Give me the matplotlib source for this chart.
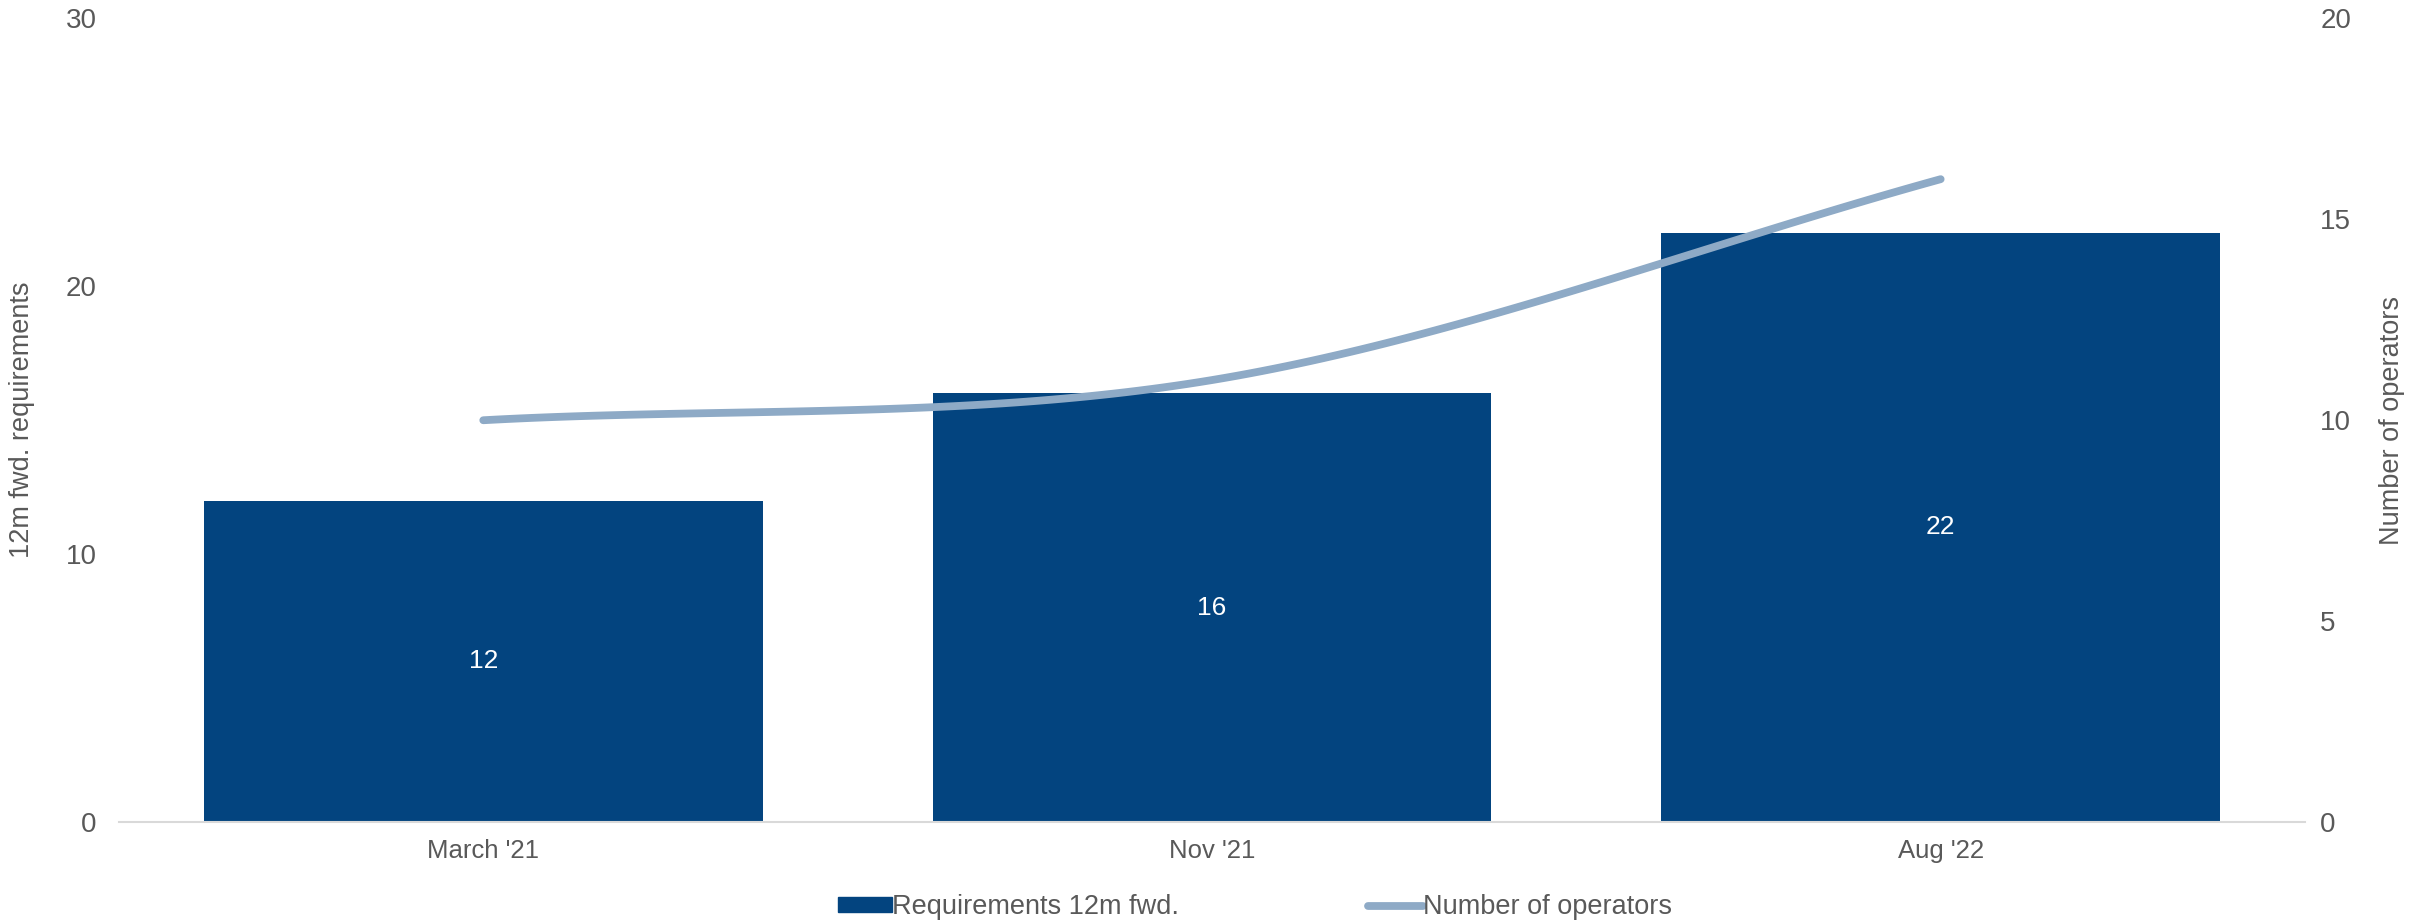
import numpy as np
import matplotlib.pyplot as plt
from matplotlib.lines import Line2D
from matplotlib.patches import Patch

categories = ["March '21", "Nov '21", "Aug '22"]
requirements = [12, 16, 22]
operators = [10, 11, 16]

BAR_COLOR = '#03447f'
LINE_COLOR = '#8eaac6'
TEXT_COLOR = '#595959'

plt.rcParams['font.family'] = ['Liberation Sans', 'DejaVu Sans']


def smooth(xs, ys, n=60):
    # Catmull-Rom curve through the points, like a smoothed office chart line
    xs = np.asarray(xs, float)
    ys = np.asarray(ys, float)
    px = np.concatenate([[2 * xs[0] - xs[1]], xs, [2 * xs[-1] - xs[-2]]])
    py = np.concatenate([[2 * ys[0] - ys[1]], ys, [2 * ys[-1] - ys[-2]]])
    out_x, out_y = [], []
    t = np.linspace(0, 1, n)
    for i in range(1, len(px) - 2):
        for p, out in ((px, out_x), (py, out_y)):
            p0, p1, p2, p3 = p[i - 1], p[i], p[i + 1], p[i + 2]
            out.extend(0.5 * ((2 * p1) + (-p0 + p2) * t
                              + (2 * p0 - 5 * p1 + 4 * p2 - p3) * t ** 2
                              + (-p0 + 3 * p1 - 3 * p2 + p3) * t ** 3))
    return np.array(out_x), np.array(out_y)


fig = plt.figure(figsize=(24.22, 9.23), dpi=100)
ax = fig.add_axes([0.0491, 0.1094, 0.9026, 0.8706])
ax2 = ax.twinx()

x = np.arange(len(categories))
bars = ax.bar(x, requirements, width=0.767, color=BAR_COLOR, zorder=2)
for b, v in zip(bars, requirements):
    ax.text(b.get_x() + b.get_width() / 2, v / 2, str(v), color='white',
            fontsize=19, ha='center', va='center')

sx, sy = smooth(x, operators)
ax2.plot(sx, sy, color=LINE_COLOR, lw=5.6, solid_capstyle='round', zorder=3)

ax.set_xlim(-0.5, len(categories) - 0.5)
ax.set_ylim(0, 30)
ax.set_yticks([0, 10, 20, 30])
ax2.set_ylim(0, 20)
ax2.set_yticks([0, 5, 10, 15, 20])
ax.set_xticks(x)
ax.set_xticklabels(categories)

for a in (ax, ax2):
    for s in ('top', 'left', 'right', 'bottom'):
        a.spines[s].set_visible(False)
    a.tick_params(length=0, colors=TEXT_COLOR, labelsize=20)
ax.spines['bottom'].set_visible(True)
ax.spines['bottom'].set_color('#d9d9d9')
ax.spines['bottom'].set_linewidth(1.5)
ax.tick_params(axis='y', pad=16)
ax2.tick_params(axis='y', pad=11)
ax.tick_params(axis='x', pad=12, labelsize=18.5)

ax.set_ylabel('12m fwd. requirements', color=TEXT_COLOR, fontsize=19.5, labelpad=22)
ax2.set_ylabel('Number of operators', color=TEXT_COLOR, fontsize=19.5, labelpad=20)

handles = [Patch(color=BAR_COLOR, label='Requirements 12m fwd.'),
           Line2D([0], [0], color=LINE_COLOR, lw=5.6, solid_capstyle='round',
                  label='Number of operators')]
fig.legend(handles=handles, loc='center', bbox_to_anchor=(0.518, 0.017), ncol=2,
           frameon=False, labelcolor=TEXT_COLOR, handlelength=2.0,
           handleheight=0.5, handletextpad=0.0, columnspacing=7,
           prop={'size': 19.5})

fig.savefig('out.png', dpi=100)
